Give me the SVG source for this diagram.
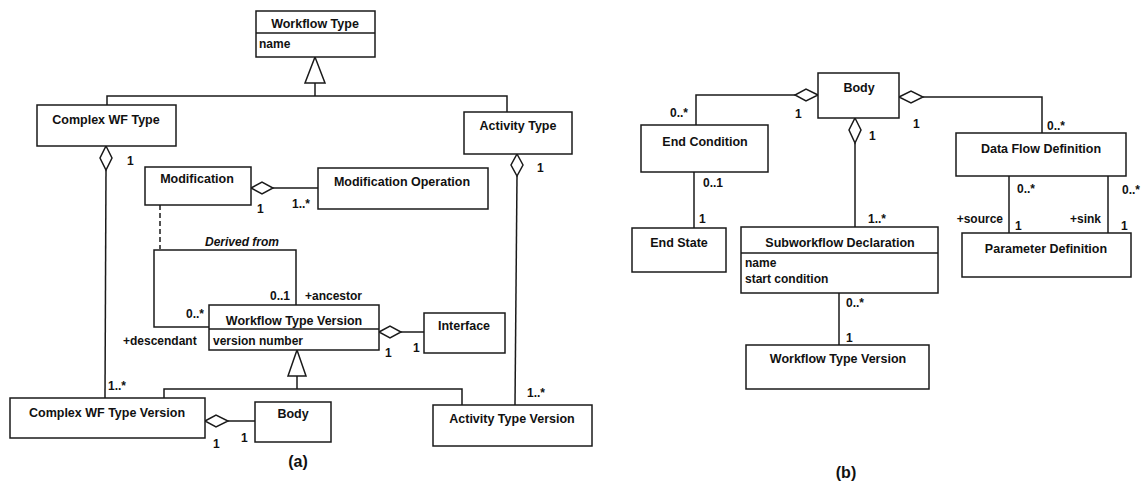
<svg xmlns="http://www.w3.org/2000/svg" width="1145" height="484" viewBox="0 0 1145 484">
<style>
.box{fill:#fff;stroke:#1a1a1a;stroke-width:1.5}
.ln{fill:none;stroke:#1a1a1a;stroke-width:1.5}
.dash{fill:none;stroke:#1a1a1a;stroke-width:1.5;stroke-dasharray:5,3}
.dia{fill:#fff;stroke:#1a1a1a;stroke-width:1.5}
.tri{fill:#fff;stroke:#1a1a1a;stroke-width:1.5}
text{font-family:"Liberation Sans",Arial,sans-serif;font-weight:bold;fill:#111}
.t{font-size:12.5px;text-anchor:middle}
.a{font-size:12px}
.m{font-size:12px}
.e{text-anchor:end}
.i{font-style:italic}
.cap{font-size:16px;text-anchor:middle}
</style>
<rect width="1145" height="484" fill="#fff"/>
<g id="connectors">
  <!-- (a) generalization to Workflow Type -->
  <polygon class="tri" points="315,57 305,83 325,83"/>
  <polyline class="ln" points="315,83 315,96"/>
  <polyline class="ln" points="107,105 107,96 507,96 507,112"/>
  <!-- Complex WF Type aggregation -->
  <polygon class="dia" points="106,146 112,158 106,170 100,158"/>
  <line class="ln" x1="106" y1="170" x2="105" y2="398"/>
  <!-- Activity Type aggregation -->
  <polygon class="dia" points="517,154 523,165 517,176 511,165"/>
  <line class="ln" x1="517" y1="176" x2="515" y2="405"/>
  <!-- Modification - Modification Operation -->
  <polygon class="dia" points="251,188 262,182 273,188 262,194"/>
  <line class="ln" x1="273" y1="188" x2="318" y2="188"/>
  <!-- dashed association class link -->
  <line class="dash" x1="160" y1="205" x2="160" y2="249"/>
  <!-- Derived from self-association -->
  <polyline class="ln" points="296,305 296,250 154,250 154,327 209,327"/>
  <!-- WTV - Interface -->
  <polygon class="dia" points="379,332 390,326 401,332 390,338"/>
  <line class="ln" x1="401" y1="332" x2="424" y2="332"/>
  <!-- generalization to WTV -->
  <polygon class="tri" points="297,350 288,376 306,376"/>
  <polyline class="ln" points="297,376 297,389"/>
  <polyline class="ln" points="164,398 164,389 462,389 462,405"/>
  <!-- CWTV - Body -->
  <polygon class="dia" points="205,421 216,415 228,421 216,427"/>
  <line class="ln" x1="228" y1="421" x2="255" y2="421"/>
  <!-- (b) Body - End Condition -->
  <polygon class="dia" points="818,95 806,89 795,95 806,101"/>
  <polyline class="ln" points="795,95 696,95 696,125"/>
  <!-- End Condition - End State -->
  <line class="ln" x1="694" y1="172" x2="694" y2="228"/>
  <!-- Body - Subworkflow Declaration -->
  <polygon class="dia" points="855,118 861,130 855,143 849,130"/>
  <line class="ln" x1="855" y1="143" x2="855" y2="227"/>
  <!-- Body - Data Flow Definition -->
  <polygon class="dia" points="899,97 911,91 923,97 911,103"/>
  <polyline class="ln" points="923,97 1042,97 1042,133"/>
  <!-- DFD - Parameter Definition -->
  <line class="ln" x1="1009" y1="176" x2="1009" y2="233"/>
  <line class="ln" x1="1108" y1="176" x2="1108" y2="233"/>
  <!-- Subworkflow Declaration - WTV -->
  <line class="ln" x1="839" y1="293" x2="839" y2="345"/>
</g>
<g id="labels">
  <text class="m" x="127" y="165">1</text>
  <text class="m" x="537" y="172">1</text>
  <text class="m" x="257" y="213">1</text>
  <text class="m" x="292" y="208">1..*</text>
  <text class="a i" x="242" y="246" text-anchor="middle">Derived from</text>
  <text class="m" x="270" y="300">0..1</text>
  <text class="m" x="305" y="300">+ancestor</text>
  <text class="m" x="186" y="318">0..*</text>
  <text class="m" x="123" y="345">+descendant</text>
  <text class="m" x="385" y="357">1</text>
  <text class="m" x="413" y="352">1</text>
  <text class="m" x="108" y="390">1..*</text>
  <text class="m" x="527" y="397">1..*</text>
  <text class="m" x="213" y="448">1</text>
  <text class="m" x="241" y="442">1</text>
  <text class="cap" x="298" y="467">(a)</text>
  <text class="m" x="670" y="117">0..*</text>
  <text class="m" x="795" y="118">1</text>
  <text class="m" x="869" y="140">1</text>
  <text class="m" x="913" y="128">1</text>
  <text class="m" x="1047" y="130">0..*</text>
  <text class="m" x="703" y="187">0..1</text>
  <text class="m" x="699" y="223">1</text>
  <text class="m" x="868" y="223">1..*</text>
  <text class="m" x="1017" y="193">0..*</text>
  <text class="m" x="1122" y="194">0..*</text>
  <text class="m e" x="1003" y="223">+source</text>
  <text class="m e" x="1101" y="223">+sink</text>
  <text class="m" x="1015" y="230">1</text>
  <text class="m" x="1121" y="230">1</text>
  <text class="m" x="846" y="307">0..*</text>
  <text class="m" x="846" y="342">1</text>
  <text class="cap" x="846" y="478">(b)</text>
</g>
<g id="workflow-type">
  <rect class="box" x="256" y="11" width="119" height="46"/>
  <line class="ln" x1="256" y1="33" x2="375" y2="33"/>
  <text class="t" x="315" y="28">Workflow Type</text>
  <text class="a" x="259" y="48">name</text>
</g>
<g id="complex-wf-type">
  <rect class="box" x="37" y="105" width="139" height="41"/>
  <text class="t" x="106" y="124">Complex WF Type</text>
</g>
<g id="activity-type">
  <rect class="box" x="464" y="112" width="108" height="42"/>
  <text class="t" x="518" y="130">Activity Type</text>
</g>
<g id="modification">
  <rect class="box" x="145" y="167" width="106" height="38"/>
  <text class="t" x="197" y="183">Modification</text>
</g>
<g id="modification-operation">
  <rect class="box" x="318" y="168" width="170" height="41"/>
  <text class="t" x="402" y="186">Modification Operation</text>
</g>
<g id="workflow-type-version-a">
  <rect class="box" x="209" y="305" width="170" height="45"/>
  <line class="ln" x1="209" y1="329" x2="379" y2="329"/>
  <text class="t" x="294" y="325">Workflow Type Version</text>
  <text class="a" x="213" y="345">version number</text>
</g>
<g id="interface">
  <rect class="box" x="424" y="313" width="81" height="40"/>
  <text class="t" x="464" y="330">Interface</text>
</g>
<g id="complex-wf-type-version">
  <rect class="box" x="10" y="398" width="195" height="40"/>
  <text class="t" x="107" y="417">Complex WF Type Version</text>
</g>
<g id="body-a">
  <rect class="box" x="255" y="402" width="76" height="40"/>
  <text class="t" x="293" y="418">Body</text>
</g>
<g id="activity-type-version">
  <rect class="box" x="433" y="405" width="159" height="41"/>
  <text class="t" x="512" y="423">Activity Type Version</text>
</g>
<g id="body-b">
  <rect class="box" x="818" y="73" width="81" height="45"/>
  <text class="t" x="859" y="92">Body</text>
</g>
<g id="end-condition">
  <rect class="box" x="641" y="125" width="127" height="47"/>
  <text class="t" x="705" y="146">End Condition</text>
</g>
<g id="end-state">
  <rect class="box" x="632" y="228" width="94" height="44"/>
  <text class="t" x="679" y="247">End State</text>
</g>
<g id="subworkflow-declaration">
  <rect class="box" x="741" y="227" width="197" height="66"/>
  <line class="ln" x1="741" y1="253" x2="938" y2="253"/>
  <text class="t" x="840" y="247">Subworkflow Declaration</text>
  <text class="a" x="745" y="267">name</text>
  <text class="a" x="745" y="283">start condition</text>
</g>
<g id="workflow-type-version-b">
  <rect class="box" x="746" y="345" width="183" height="44"/>
  <text class="t" x="838" y="363">Workflow Type Version</text>
</g>
<g id="data-flow-definition">
  <rect class="box" x="956" y="133" width="170" height="43"/>
  <text class="t" x="1041" y="153">Data Flow Definition</text>
</g>
<g id="parameter-definition">
  <rect class="box" x="962" y="233" width="169" height="44"/>
  <text class="t" x="1046" y="253">Parameter Definition</text>
</g>
</svg>
